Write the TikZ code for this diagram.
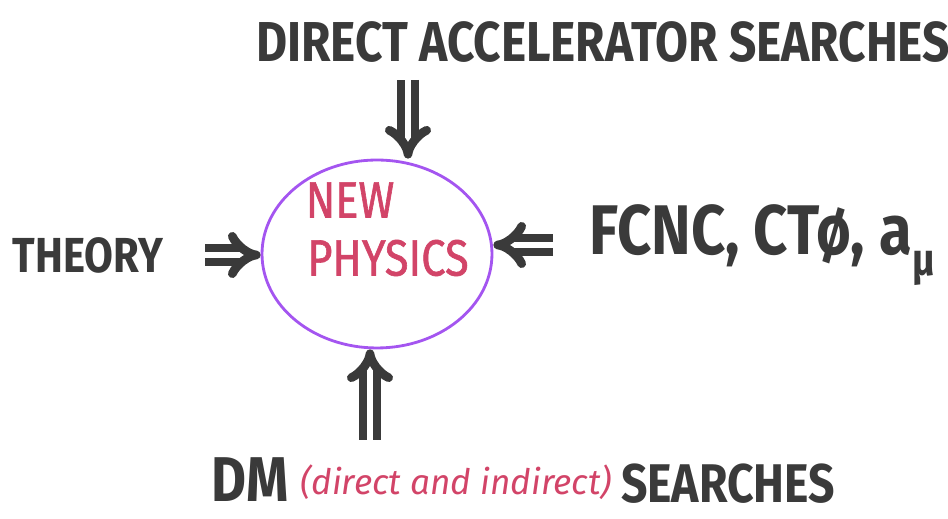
\documentclass[tikz,border=0pt]{standalone}
\usepackage{fontspec}
\usepackage{tikz}
\usetikzlibrary{arrows.meta,shapes.geometric,positioning}
\newfontfamily\hand[FakeStretch=0.85]{Fira Sans}
\newfontfamily\handpink[FakeStretch=0.85,FakeBold=1.2]{Fira Sans}
\newfontfamily\thin{Fira Sans}
\definecolor{ink}{HTML}{3A3A3A}
\definecolor{rim}{HTML}{A455F0}
\definecolor{rose}{HTML}{D24468}

\begin{document}
\begin{tikzpicture}[x=0.02cm, y=-0.02cm,
    big/.style={text=ink, font=\hand\bfseries\fontsize{31}{31}\selectfont, inner sep=0pt},
    pink/.style={text=rose, font=\handpink\fontsize{29}{29}\selectfont, inner sep=0pt},
    dbl/.style={draw=ink, line width=5pt, double=white, double distance=3pt, -{Implies}}
]
\useasboundingbox (0,0) rectangle (948,519);
\node[draw=rim, line width=1.6pt, ellipse, minimum width=4.6cm, minimum height=3.76cm] (np) at (377,254) {};
\node[pink] (new) at (350,200) {NEW};
\node[pink] (phys) at (388,258) {PHYSICS};

\node[big, font=\hand\bfseries\fontsize{32}{32}\selectfont] (top) at (603,42) {DIRECT ACCELERATOR SEARCHES};
\node[big, font=\hand\bfseries\fontsize{28}{28}\selectfont] (theory) at (88,255) {THEORY};
\node[big, font=\hand\bfseries\fontsize{40}{40}\selectfont] (fcnc) at (762,245)
  {FCNC, CTø, a\raisebox{-0.3em}{\fontsize{26}{26}\selectfont μ}};
\node[big, font=\hand\bfseries\fontsize{36}{36}\selectfont] (dm) at (250,480) {DM};
\node[text=rose, font=\thin\itshape\fontsize{20}{20}\selectfont, inner sep=0pt] (dirind) at (456,482) {(direct and indirect)};
\node[big] (srch) at (728,484) {SEARCHES};

\coordinate (t1) at (408,80);
\coordinate (l1) at (205,255);
\coordinate (r1) at (553,245);
\coordinate (b1) at (370,440);

\draw[dbl] (t1) -- (t1 |- np.north);
\draw[dbl] (l1) -- (l1 -| np.west);
\draw[dbl] (r1) -- (r1 -| np.east);
\draw[dbl] (b1) -- (b1 |- np.south);
\end{tikzpicture}
\end{document}
